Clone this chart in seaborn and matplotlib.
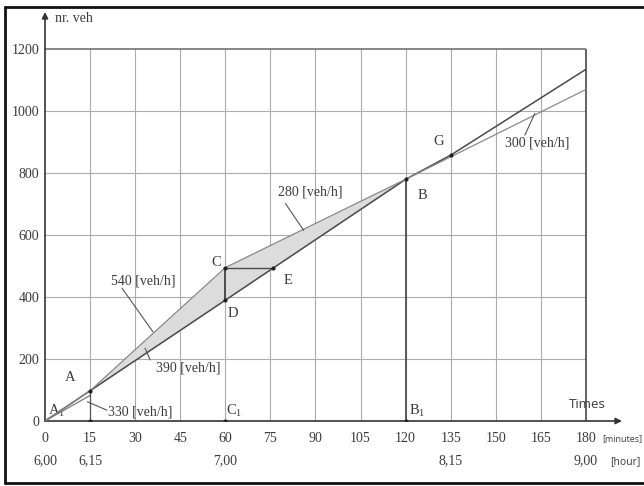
import matplotlib
matplotlib.use("Agg")
import matplotlib.pyplot as plt
import seaborn as sns
import pandas as pd
from matplotlib.lines import Line2D

# Cumulative vehicles [nr. veh] against time [minutes after 6,00]
minute_ticks = [0, 15, 30, 45, 60, 75, 90, 105, 120, 135, 150, 165, 180]
hour_labels = {0: "6,00", 15: "6,15", 60: "7,00", 135: "8,15", 180: "9,00"}
veh_ticks = [0, 200, 400, 600, 800, 1000, 1200]

# dark line (390 veh/h up to B, then continuing through G)
dep_t = [0, 15, 60, 120, 135, 180]
dep_n = [0, 97.5, 390, 780, 858, 1135]
# upper line A -> C -> B (540 then 280 veh/h)
arr_t = [0, 15, 60, 120]
arr_n = [0, 97.5, 495, 780]
# 330 veh/h start
low_t = [0, 15]
low_n = [0, 82.5]
# 300 veh/h after B
after_t = [120, 180]
after_n = [780, 1070]
# C -> E
ce_t = [60, 76]
ce_n = [495, 495]

points = {"A": (15, 97.5), "C": (60, 495), "D": (60, 390), "E": (76, 495),
          "B": (120, 780), "G": (135, 858)}
axis_points = [15, 60, 120]

sns.set_style("white")
plt.rcParams["font.family"] = ["Liberation Serif", "DejaVu Serif"]
plt.rcParams["mathtext.fontset"] = "custom"
plt.rcParams["mathtext.rm"] = "Liberation Serif"

fig = plt.figure(figsize=(6.44, 4.86), dpi=100)
ax = fig.add_axes([45 / 644, 65 / 486, 577 / 644, 409 / 486])
ax.set_xlim(0, 192)
ax.set_ylim(0, 1320)
for s in ax.spines.values():
    s.set_visible(False)

grid_c = "#ababab"
line_c = "#4a4a4a"
text_c = "#3a3a3a"

# grid
ax.vlines(minute_ticks[1:-1], 0, 1200, color=grid_c, lw=0.8, zorder=1)
ax.hlines(veh_ticks[1:-1], 0, 180, color=grid_c, lw=0.8, zorder=1)
ax.vlines([180], 0, 1200, color="#555555", lw=1.3, zorder=2)
ax.hlines([1200], 0, 180, color="#666666", lw=1.1, zorder=2)

# axes with arrows
ax.annotate("", xy=(192, 0), xytext=(0, 0), annotation_clip=False,
            arrowprops=dict(arrowstyle="-|>", color="#333333", lw=1.2,
                            mutation_scale=9, shrinkA=0, shrinkB=0))
ax.annotate("", xy=(0, 1320), xytext=(0, 0), annotation_clip=False,
            arrowprops=dict(arrowstyle="-|>", color="#333333", lw=1.2,
                            mutation_scale=9, shrinkA=0, shrinkB=0))

# shaded area between the two curves
ax.fill_between(arr_t[1:], arr_n[1:], [97.5, 390, 780], color="#dcdcdc", zorder=2, lw=0)

df_dep = pd.DataFrame({"t": dep_t, "n": dep_n})
df_arr = pd.DataFrame({"t": arr_t, "n": arr_n})
sns.lineplot(data=df_dep, x="t", y="n", ax=ax, color=line_c, lw=1.1, zorder=4, sort=False)
sns.lineplot(data=df_arr, x="t", y="n", ax=ax, color="#858585", lw=0.9, zorder=4, sort=False)
sns.lineplot(x=low_t, y=low_n, ax=ax, color="#7a7a7a", lw=0.9, zorder=4)
sns.lineplot(x=after_t, y=after_n, ax=ax, color="#8a8a8a", lw=0.9, zorder=4)
sns.lineplot(x=ce_t, y=ce_n, ax=ax, color=line_c, lw=1.0, zorder=4)

# verticals A-A1, C-D, B-B1
ax.vlines([15], 0, 97.5, color="#555555", lw=0.9, zorder=4)
ax.vlines([60], 390, 495, color="#333333", lw=1.2, zorder=4)
ax.vlines([120], 0, 780, color="#444444", lw=1.2, zorder=4)

px = [p[0] for p in points.values()] + axis_points
py = [p[1] for p in points.values()] + [0] * len(axis_points)
sns.scatterplot(x=px, y=py, ax=ax, color="#222222", s=9, zorder=6, linewidth=0)

# point labels
lab_kw = dict(color=text_c, fontsize=10.5, ha="center", va="center")
ax.text(8.3, 139, "A", **lab_kw)
ax.text(4.0, 35, r"A$_{1}$", **lab_kw)
ax.text(57, 513, "C", **lab_kw)
ax.text(62.5, 348, "D", **lab_kw)
ax.text(81, 452, "E", **lab_kw)
ax.text(125.5, 729, "B", **lab_kw)
ax.text(131, 902, "G", **lab_kw)
ax.text(62.8, 35, r"C$_{1}$", **lab_kw)
ax.text(123.8, 35, r"B$_{1}$", **lab_kw)

# rate labels with pointers
rate_kw = dict(color=text_c, fontsize=10, va="center")
ax.text(22, 452, "540 [veh/h]", ha="left", **rate_kw)
ax.plot([25.6, 35.9], [429, 288], color="#555555", lw=0.8, zorder=5)
ax.text(37, 171, "390 [veh/h]", ha="left", **rate_kw)
ax.plot([35, 33.3], [197, 235], color="#555555", lw=0.8, zorder=5)
ax.text(20.8, 30, "330 [veh/h]", ha="left", **rate_kw)
ax.plot([20.6, 14.1], [35, 62], color="#555555", lw=0.8, zorder=5)
ax.text(77.5, 738, "280 [veh/h]", ha="left", **rate_kw)
ax.plot([80, 86.1], [702, 615], color="#555555", lw=0.8, zorder=5)
ax.text(153, 897, "300 [veh/h]", ha="left", **rate_kw)
ax.plot([159.7, 163], [923, 993], color="#555555", lw=0.8, zorder=5)

# ticks
ax.set_yticks(veh_ticks)
ax.set_yticklabels([str(v) for v in veh_ticks])
ax.set_xticks(minute_ticks)
ax.set_xticklabels([f"{m}\n{hour_labels.get(m, '')}" for m in minute_ticks],
                   linespacing=1.9, va="top")
ax.tick_params(axis="both", length=0, labelsize=10, colors=text_c)
ax.tick_params(axis="x", pad=8)
ax.tick_params(axis="y", pad=4)

ax.text(3.3, 1300, "nr. veh", fontsize=10, color=text_c, ha="left", va="center",
        clip_on=False)
ax.text(180.5, 52, "Times", family=["Open Sans", "DejaVu Sans"], fontsize=9.5,
        color=text_c, ha="center", va="center")
ax.text(185.5, -57, "[minutes]", family=["Open Sans", "DejaVu Sans"], fontsize=6.5,
        color=text_c, ha="left", va="center", clip_on=False)
ax.text(188, -131, "[hour]", family=["Open Sans", "DejaVu Sans"], fontsize=7.5,
        color=text_c, ha="left", va="center", clip_on=False)

ax.set_xlabel("")
ax.set_ylabel("")

# page border of the scan
fig.add_artist(Line2D([5 / 644, 5 / 644], [3 / 486, 479 / 486], color="#111111", lw=2))
fig.add_artist(Line2D([5 / 644, 1], [479 / 486, 479 / 486], color="#111111", lw=2))
fig.add_artist(Line2D([5 / 644, 1], [3 / 486, 3 / 486], color="#111111", lw=2))

fig.savefig("out.png", dpi=100)
